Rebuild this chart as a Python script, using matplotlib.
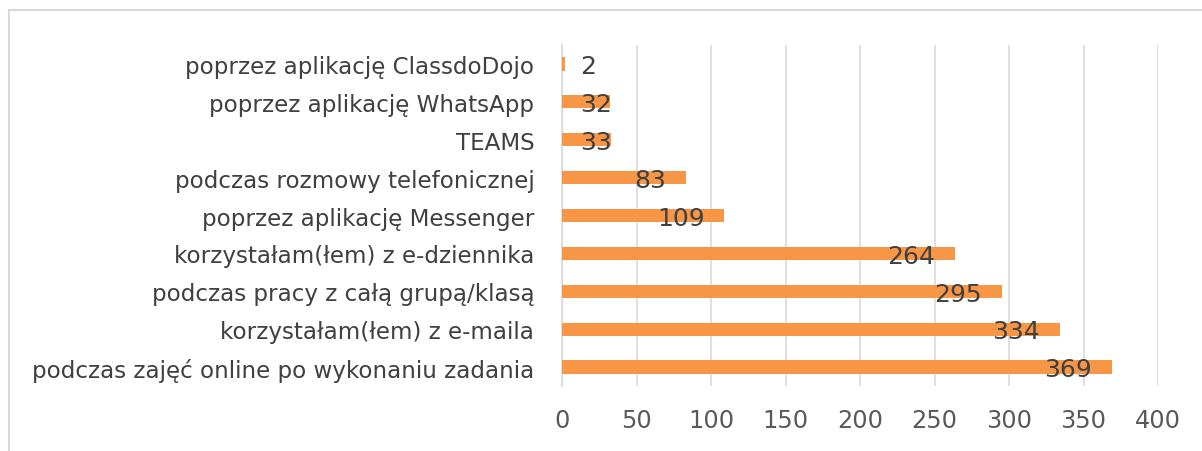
import matplotlib.pyplot as plt
from matplotlib.patches import Rectangle

# dane (od góry do dołu)
kategorie = [
    "poprzez aplikację ClassdoDojo",
    "poprzez aplikację WhatsApp",
    "TEAMS",
    "podczas rozmowy telefonicznej",
    "poprzez aplikację Messenger",
    "korzystałam(łem) z e-dziennika",
    "podczas pracy z całą grupą/klasą",
    "korzystałam(łem) z e-maila",
    "podczas zajęć online po wykonaniu zadania",
]
wartosci = [2, 32, 33, 83, 109, 264, 295, 334, 369]
xticks = [0, 50, 100, 150, 200, 250, 300, 350, 400]

fig = plt.figure(figsize=(12.02, 4.52), dpi=100)
ax = fig.add_axes([0.4676, 0.1438, 0.4958, 0.7544])

y = list(range(len(kategorie)))
ax.barh(y, wartosci, height=0.35, color="#F79646", zorder=3)

# etykiety danych
for yi, v in zip(y, wartosci):
    if v < 50:
        ax.text(12, yi + 0.06, str(v), ha="left", va="center", fontsize=18,
                color="#404040", zorder=4)
    else:
        ax.text(v - 13.4, yi + 0.06, str(v), ha="right", va="center", fontsize=18,
                color="#404040", zorder=4)

ax.set_xlim(0, 400)
ax.set_ylim(-0.5, len(kategorie) - 0.5)
ax.invert_yaxis()
ax.set_yticks(y)
ax.set_yticklabels(kategorie, fontsize=16.6, color="#404040")
ax.set_xticks(xticks)
ax.set_xticklabels([str(t) for t in xticks], fontsize=17.3, color="#595959")
ax.tick_params(axis="y", length=0, pad=20)
ax.tick_params(axis="x", length=0, pad=16)
ax.grid(axis="x", color="#D9D9D9", linewidth=1.2, zorder=0)

for s in ["top", "right", "bottom"]:
    ax.spines[s].set_visible(False)
ax.spines["left"].set_color("#D9D9D9")
ax.spines["left"].set_linewidth(1.2)

# ramka wykresu
fig.patches.append(Rectangle((9 / 1202, -0.1), 1.2, (452 - 11) / 452 + 0.1,
                             transform=fig.transFigure, fill=False,
                             edgecolor="#D9D9D9", linewidth=1.5))

plt.savefig("out.png", dpi=100)
